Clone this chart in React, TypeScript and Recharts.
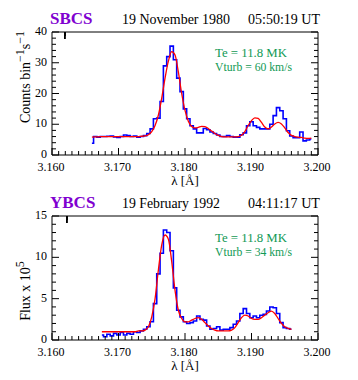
import React from 'react';
import { LineChart, Line, XAxis, YAxis } from 'recharts';

// wavelength grids (Å) and values
const sbcsWl = [
  3.1660, 3.1665, 3.1670, 3.1675, 3.1680, 3.1685, 3.1690, 3.1695, 3.1700, 3.1705,
  3.1710, 3.1715, 3.1720, 3.1725, 3.1730, 3.1735, 3.1740, 3.1745, 3.1750, 3.1755,
  3.1760, 3.1765, 3.1770, 3.1775, 3.1780, 3.1785, 3.1790, 3.1795, 3.1800, 3.1805,
  3.1810, 3.1815, 3.1820, 3.1825, 3.1830, 3.1835, 3.1840, 3.1845, 3.1850, 3.1855,
  3.1860, 3.1865, 3.1870, 3.1875, 3.1880, 3.1885, 3.1890, 3.1895, 3.1900, 3.1905,
  3.1910, 3.1915, 3.1920, 3.1925, 3.1930, 3.1935, 3.1940, 3.1945, 3.1950, 3.1955,
  3.1960, 3.1965, 3.1970, 3.1975, 3.1980, 3.1985, 3.1990,
];
const sbcsObs = [
  3.8, 6.0, 5.8, 6.0, 6.0, 6.1, 6.2, 5.9, 5.7, 6.0,
  6.5, 6.3, 6.0, 6.2, 5.8, 6.0, 6.3, 7.0, 8.5, 11.8,
  12.0, 17.4, 29.0, 32.0, 35.4, 31.0, 25.0, 20.6, 15.0, 11.8,
  9.5, 8.5, 7.2, 7.2, 8.6, 8.2, 7.5, 7.0, 6.5, 6.0,
  6.0, 6.3, 6.0, 5.8, 5.8, 6.6, 7.2, 9.5, 10.8, 9.5,
  9.0, 8.5, 8.5, 8.5, 10.0, 12.8, 15.4, 14.4, 11.8, 7.9,
  6.2, 5.6, 5.6, 7.5, 4.6, 4.9, 5.2,
];
const sbcsFit = [
  5.8, 5.9, 5.9, 6.0, 6.0, 6.0, 6.0, 6.0, 6.0, 6.0,
  6.0, 6.0, 6.0, 6.0, 6.0, 6.1, 6.2, 6.6, 7.6, 9.6,
  13.0, 18.5, 25.0, 30.5, 33.6, 32.5, 27.0, 20.0, 14.5, 11.0,
  9.3, 8.8, 9.0, 9.3, 9.2, 8.6, 7.8, 7.0, 6.4, 6.0,
  5.9, 5.9, 5.9, 5.9, 6.0, 6.4, 7.6, 9.6, 11.2, 12.1,
  11.9, 10.6, 9.1, 8.5, 9.1, 10.1, 10.6, 10.1, 8.8, 7.3,
  6.4, 6.0, 5.8, 5.7, 5.5, 5.4, 5.5,
];

const ybcsWl = [
  3.1675, 3.1680, 3.1685, 3.1690, 3.1695, 3.1700, 3.1705, 3.1710, 3.1715, 3.1720,
  3.1725, 3.1730, 3.1735, 3.1740, 3.1745, 3.1750, 3.1755, 3.1760, 3.1765, 3.1770,
  3.1775, 3.1780, 3.1785, 3.1790, 3.1795, 3.1800, 3.1805, 3.1810, 3.1815, 3.1820,
  3.1825, 3.1830, 3.1835, 3.1840, 3.1845, 3.1850, 3.1855, 3.1860, 3.1865, 3.1870,
  3.1875, 3.1880, 3.1885, 3.1890, 3.1895, 3.1900, 3.1905, 3.1910, 3.1915, 3.1920,
  3.1925, 3.1930, 3.1935, 3.1940, 3.1945, 3.1950, 3.1955, 3.1960,
];
const ybcsObs = [
  0.6, 0.4, 0.7, 0.5, 0.8, 0.6, 0.9, 0.6, 0.8, 0.7,
  1.0, 0.9, 1.1, 1.3, 1.6, 2.2, 4.4, 8.0, 10.5, 13.3,
  13.0, 10.8, 6.3, 3.6, 2.8, 2.2, 2.0, 2.1, 2.3, 2.9,
  2.5, 2.4, 1.7, 1.3, 1.4, 1.6, 1.2, 1.3, 1.3, 1.5,
  1.9, 2.3, 3.2, 3.8, 3.2, 2.7, 2.9, 2.7, 3.0, 3.1,
  3.5, 4.0, 3.9, 3.2, 2.1, 1.5, 1.4, 1.3,
];
const ybcsFit = [
  1.0, 1.0, 1.0, 1.0, 1.0, 1.0, 1.0, 1.0, 1.0, 1.0,
  1.0, 1.1, 1.1, 1.2, 1.6, 2.8, 5.0, 8.5, 11.5, 12.7,
  12.2, 9.5, 6.0, 3.6, 2.6, 2.2, 2.2, 2.4, 2.6, 2.7,
  2.5, 2.1, 1.7, 1.4, 1.2, 1.1, 1.1, 1.1, 1.1, 1.2,
  1.5, 2.1, 2.7, 3.0, 2.9, 2.6, 2.5, 2.5, 2.7, 3.0,
  3.3, 3.5, 3.2, 2.6, 2.0, 1.6, 1.4, 1.3,
];

const xMajor = [3.16, 3.17, 3.18, 3.19, 3.2];
const xLabels = ['3.160', '3.170', '3.180', '3.190', '3.200'];
const sbcsYMajor = [0, 10, 20, 30, 40];
const ybcsYMajor = [0, 5, 10, 15];

const FONT = '"Liberation Serif", "DejaVu Serif", serif';
const GREEN = '#119955';
const PURPLE = '#8000d0';

const near = (a: number, b: number) => Math.abs(a - b) < 1e-7;

// majors plus evenly divided minor ticks
function withMinor(majors: number[], n: number) {
  const out: number[] = [];
  for (let i = 0; i < majors.length - 1; i++) {
    for (let k = 0; k < n; k++) out.push(majors[i] + ((majors[i + 1] - majors[i]) * k) / n);
  }
  out.push(majors[majors.length - 1]);
  return out;
}

const xTicks = withMinor(xMajor, 10);

function makeTick(side: 'bottom' | 'top' | 'left' | 'right', majors: number[], labels?: string[]) {
  return (p: any) => {
    const { x, y, payload } = p;
    const idx = majors.findIndex((m) => near(m, payload.value));
    const len = idx >= 0 ? 7 : 4;
    let line;
    if (side === 'bottom') line = <line x1={x} y1={y} x2={x} y2={y - len} stroke="#000" />;
    else if (side === 'top') line = <line x1={x} y1={y} x2={x} y2={y + len} stroke="#000" />;
    else if (side === 'left') line = <line x1={x} y1={y} x2={x + len} y2={y} stroke="#000" />;
    else line = <line x1={x} y1={y} x2={x - len} y2={y} stroke="#000" />;
    let label = null;
    if (idx >= 0 && labels) {
      if (side === 'bottom')
        label = (
          <text x={x - 1} y={y + 16} textAnchor="middle" fontSize={12} fontFamily={FONT} fill="#000">
            {labels[idx]}
          </text>
        );
      else if (side === 'left')
        label = (
          <text x={x - 5} y={y + 3} textAnchor="end" fontSize={12} fontFamily={FONT} fill="#000">
            {labels[idx]}
          </text>
        );
    }
    return (
      <g>
        {line}
        {label}
      </g>
    );
  };
}

interface PanelProps {
  wl: number[];
  obs: number[];
  fit: number[];
  yMajor: number[];
  yMinor: number;
  topH: number;
  bottomH: number;
  name: string;
  date: string;
  dateW: number;
  time: string;
  titleY: number;
  te: string;
  vturb: string;
  teY: number;
  yLabel: React.ReactNode;
  yLabelY: number;
}

function Panel(props: PanelProps) {
  const data = props.wl.map((lam, i) => ({ lam, obs: props.obs[i], fit: props.fit[i] }));
  const yTicks = withMinor(props.yMajor, props.yMinor);
  const yMax = props.yMajor[props.yMajor.length - 1];
  const yLabels = props.yMajor.map((v) => String(v));
  const axisLine = { stroke: '#000' };
  const plotBottom = 190 - props.bottomH;
  return (
    <div style={{ position: 'relative', width: 358, height: 190 }}>
      <LineChart width={358} height={190} data={data} margin={{ top: 2, right: 0, bottom: 0, left: 0 }}>
        <XAxis
          xAxisId="b"
          dataKey="lam"
          type="number"
          domain={[3.16, 3.2]}
          allowDataOverflow
          ticks={xTicks}
          interval={0}
          tickLine={false}
          tickSize={0}
          tickMargin={0}
          axisLine={axisLine}
          height={props.bottomH}
          tick={makeTick('bottom', xMajor, xLabels)}
        />
        <XAxis
          xAxisId="t"
          orientation="top"
          type="number"
          domain={[3.16, 3.2]}
          allowDataOverflow
          ticks={xTicks}
          interval={0}
          tickLine={false}
          tickSize={0}
          tickMargin={0}
          axisLine={axisLine}
          height={props.topH}
          tick={makeTick('top', xMajor)}
        />
        <YAxis
          yAxisId="l"
          type="number"
          domain={[0, yMax]}
          allowDataOverflow
          ticks={yTicks}
          interval={0}
          tickLine={false}
          tickSize={0}
          tickMargin={0}
          axisLine={axisLine}
          width={52}
          tick={makeTick('left', props.yMajor, yLabels)}
        />
        <YAxis
          yAxisId="r"
          orientation="right"
          type="number"
          domain={[0, yMax]}
          allowDataOverflow
          ticks={yTicks}
          interval={0}
          tickLine={false}
          tickSize={0}
          tickMargin={0}
          axisLine={axisLine}
          width={40}
          tick={makeTick('right', props.yMajor)}
        />
        <Line
          xAxisId="b"
          yAxisId="l"
          dataKey="obs"
          type="step"
          stroke="#0000ff"
          strokeWidth={1.6}
          dot={false}
          activeDot={false}
          isAnimationActive={false}
        />
        <Line
          xAxisId="b"
          yAxisId="l"
          dataKey="fit"
          type="monotone"
          stroke="#ff0000"
          strokeWidth={1.3}
          dot={false}
          activeDot={false}
          isAnimationActive={false}
        />
      </LineChart>
      <svg
        width={358}
        height={190}
        style={{ position: 'absolute', left: 0, top: 0, pointerEvents: 'none' }}
        fontFamily={FONT}
      >
        <text x={50} y={props.titleY} fontSize={17} fontWeight="bold" fill={PURPLE}>
          {props.name}
        </text>
        <text x={122} y={props.titleY} fontSize={15} fill="#000" textLength={props.dateW} lengthAdjust="spacingAndGlyphs">
          {props.date}
        </text>
        <text x={248} y={props.titleY} fontSize={15} fill="#000" textLength={72} lengthAdjust="spacingAndGlyphs">
          {props.time}
        </text>
        <text x={215} y={props.teY} fontSize={12} fill={GREEN} textLength={72} lengthAdjust="spacingAndGlyphs">
          {props.te}
        </text>
        <text x={215} y={props.teY + 14} fontSize={12} fill={GREEN} textLength={77} lengthAdjust="spacingAndGlyphs">
          {props.vturb}
        </text>
        <text x={185} y={plotBottom + 30} fontSize={13} fill="#000" textAnchor="middle">
          λ [Å]
        </text>
        <text transform={`translate(30,${props.yLabelY}) rotate(-90)`} fontSize={14} fill="#000" textAnchor="middle">
          {props.yLabel}
        </text>
      </svg>
    </div>
  );
}

export default function App() {
  return (
    <div style={{ position: 'absolute', left: 0, top: 0, width: 358, height: 380, background: '#fff' }}>
      <Panel
        wl={sbcsWl}
        obs={sbcsObs}
        fit={sbcsFit}
        yMajor={sbcsYMajor}
        yMinor={5}
        topH={30}
        bottomH={35}
        name="SBCS"
        date="19 November 1980"
        dateW={108}
        time="05:50:19 UT"
        titleY={24}
        te="Te = 11.8 MK"
        vturb="Vturb = 60 km/s"
        teY={57}
        yLabelY={77}
        yLabel={
          <>
            Counts bin
            <tspan dy={-6} fontSize={12}>−1</tspan>
            <tspan dy={6}>s</tspan>
            <tspan dy={-6} fontSize={12}>−1</tspan>
          </>
        }
      />
      <Panel
        wl={ybcsWl}
        obs={ybcsObs}
        fit={ybcsFit}
        yMajor={ybcsYMajor}
        yMinor={5}
        topH={24}
        bottomH={40}
        name="YBCS"
        date="19 February 1992"
        dateW={98}
        time="04:11:17 UT"
        titleY={18}
        te="Te = 11.8 MK"
        vturb="Vturb = 34 km/s"
        teY={52}
        yLabelY={101}
        yLabel={
          <>
            Flux x 10
            <tspan dy={-6} fontSize={12}>5</tspan>
          </>
        }
      />
    </div>
  );
}
